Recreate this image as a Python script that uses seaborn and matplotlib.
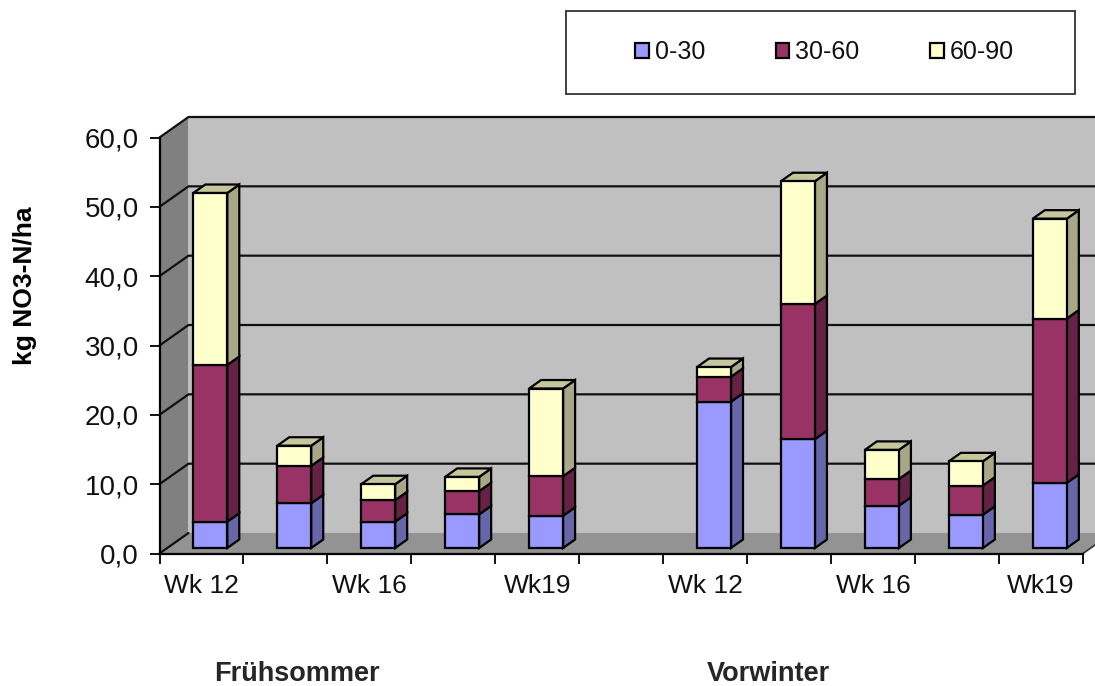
#!/usr/bin/env python3
import matplotlib
matplotlib.use('Agg')
import matplotlib.pyplot as plt
from matplotlib.patches import Polygon, Rectangle
import numpy as np
import pandas as pd
import seaborn as sns

# 数据
groups = ['Frühsommer', 'Vorwinter']
weeks = ['Wk 12', '', 'Wk 16', '', 'Wk19']
layers = ['0-30', '30-60', '60-90']
layer_0_30 = [3.8, 6.45, 3.8, 4.85, 4.65, 21.1, 15.7, 6.1, 4.8, 9.4]
layer_30_60 = [22.6, 5.4, 3.1, 3.35, 5.7, 3.6, 19.5, 3.85, 4.2, 23.7]
layer_60_90 = [24.8, 2.9, 2.3, 2.05, 12.65, 1.4, 17.7, 4.2, 3.5, 14.4]
y_ticks = [0, 10, 20, 30, 40, 50, 60]

W, H = 1095, 686
AX_L, AX_R, AX_T, AX_B = 159.5, 1083.0, 137.5, 553.5
LW = 1.6
front_colors = ['#9999FF', '#993366', '#FFFFCC']
side_colors = ['#6666A8', '#662244', '#A8A888']
top_colors = ['#8080D0', '#802C55', '#C6C69C']

sns.set_style('white')
plt.rcParams['font.family'] = ['Liberation Sans', 'DejaVu Sans']

fig = plt.figure(figsize=(W / 100, H / 100), dpi=100)
ax = fig.add_axes([AX_L / W, 1 - AX_B / H, (AX_R - AX_L) / W, (AX_B - AX_T) / H])
ax.patch.set_visible(False)

slot_px = (AX_R - AX_L) / 11
unit_px = (AX_B - AX_T) / 60
wall_dx, wall_dy = 29 / slot_px, 20.5 / unit_px
bar_dx, bar_dy = 12 / slot_px, 8.5 / unit_px
shift_x, shift_y = 8.8 / slot_px, 5.5 / unit_px

slots = [i + g * (len(weeks) + 1) for g in range(len(groups)) for i in range(len(weeks))]
df = pd.DataFrame({'slot': slots, '0-30': layer_0_30, '30-60': layer_30_60, '60-90': layer_60_90})

# 堆叠柱
bottom = np.full(len(df), shift_y)
for name, color in zip(layers, front_colors):
    sns.barplot(data=df, x='slot', y=name, native_scale=True, width=34 / slot_px, color=color,
                saturation=1, bottom=bottom, edgecolor='black', linewidth=LW, ax=ax, zorder=3)
    bottom = bottom + df[name].to_numpy()

ax.set_xlim(-0.5, 10.5)
ax.set_ylim(0, 60)

# 背景墙
x0, x1 = -0.5, 10.5
ax.add_patch(Polygon([(x0 + wall_dx, wall_dy), (x1 + wall_dx, wall_dy), (x1 + wall_dx, 60 + wall_dy),
                      (x0 + wall_dx, 60 + wall_dy)], fc='#C0C0C0', ec='none', clip_on=False, zorder=0.1))
ax.add_patch(Polygon([(x0, 0), (x0 + wall_dx, wall_dy), (x0 + wall_dx, 60 + wall_dy), (x0, 60)],
                     fc='#808080', ec='none', clip_on=False, zorder=0.2))
ax.add_patch(Polygon([(x0, 0), (x1, 0), (x1 + wall_dx, wall_dy), (x0 + wall_dx, wall_dy)],
                     fc='#939393', ec='none', clip_on=False, zorder=0.3))
for tick in y_ticks:
    px = [x0, x0 + wall_dx] + ([x1 + wall_dx] if tick > 0 else [])
    py = [tick, tick + wall_dy] + ([tick + wall_dy] if tick > 0 else [])
    ax.plot(px, py, color='#111111', lw=LW, clip_on=False, zorder=0.5)
ax.plot([x1, x1 + wall_dx], [0, wall_dy], color='#333333', lw=1.2, clip_on=False, zorder=0.5)

# 柱子的侧面和顶面
for seg, container in enumerate(ax.containers):
    for p in container:
        p.set_x(p.get_x() + shift_x)
        left, right = p.get_x(), p.get_x() + p.get_width()
        low, high = p.get_y(), p.get_y() + p.get_height()
        ax.add_patch(Polygon([(right, low), (right + bar_dx, low + bar_dy), (right + bar_dx, high + bar_dy),
                              (right, high)], fc=side_colors[seg], ec='black', lw=LW, zorder=2.9))
        if seg == len(layers) - 1:
            ax.add_patch(Polygon([(left, high), (right, high), (right + bar_dx, high + bar_dy),
                                  (left + bar_dx, high + bar_dy)], fc=top_colors[seg], ec='black',
                                 lw=LW, clip_on=False, zorder=2.9))

# 坐标轴
sns.despine(ax=ax, top=True, right=True)
for side in ['left', 'bottom']:
    ax.spines[side].set_color('black')
    ax.spines[side].set_linewidth(1.6)
ax.set_yticks(y_ticks)
ax.set_yticklabels([f'{t:.1f}'.replace('.', ',') for t in y_ticks])
label_pos = [s for s, g in zip(slots, weeks * 2) if g]
ax.set_xticks(label_pos)
ax.set_xticklabels([w for w in weeks * 2 if w])
ax.set_xticks(np.arange(-0.5, 11, 1), minor=True)
ax.tick_params(axis='x', which='major', length=0, pad=15, labelsize=19, labelcolor='#111111')
ax.tick_params(axis='x', which='minor', length=7, width=1.3, color='black', bottom=True)
ax.tick_params(axis='y', length=7, width=1.3, color='black', left=True, pad=8, labelsize=20, labelcolor='#111111')
ax.set_xlabel('')
ax.set_ylabel('')

fig.text(25 / W, 1 - 286 / H, 'kg NO3-N/ha', rotation=90, fontsize=19, fontweight='bold',
         ha='center', va='center', color='black')
fig.text(297 / W, 1 - 674 / H, groups[0], fontsize=19.5, fontweight='bold', ha='center', va='center')
fig.text(768 / W, 1 - 674 / H, groups[1], fontsize=19.5, fontweight='bold', ha='center', va='center')

# 图例
fig.add_artist(Rectangle((565.5 / W, 1 - 94 / H), 509 / W, 83 / H, transform=fig.transFigure,
                         fc='white', ec='#333333', lw=1.3))
leg = fig.legend([c[0] for c in ax.containers], layers, ncol=3, frameon=False, loc='center',
                 bbox_to_anchor=(824.5 / W, 1 - 52 / H), fontsize=18, handlelength=0.55, handleheight=0.55,
                 handletextpad=0.25, columnspacing=2.8, labelcolor='#111111')

fig.savefig('out.png', dpi=100)
plt.close(fig)
